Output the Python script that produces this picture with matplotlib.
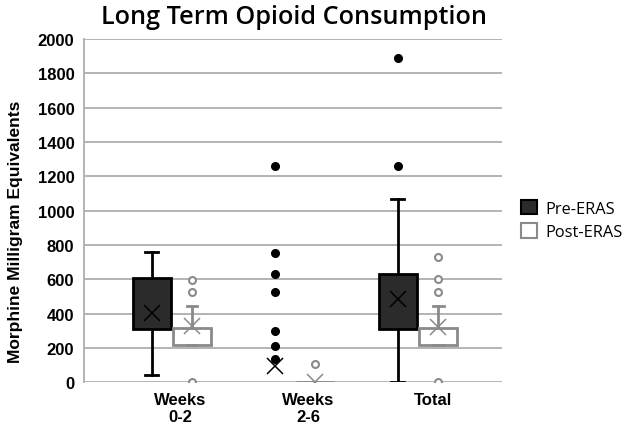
import matplotlib
matplotlib.use("Agg")
import matplotlib.pyplot as plt
from matplotlib.patches import Patch

# ---- data ----
categories = ["Weeks\n0-2", "Weeks\n2-6", "Total"]
series = ["Pre-ERAS", "Post-ERAS"]

pre_q1 = [311, 115, 309]
pre_med = [400, 115, 450]
pre_q3 = [610, 115, 631]
pre_whislo = [43, 115, 0]
pre_whishi = [761, 115, 1068]
pre_mean = [404, 95, 486]
pre_fliers = [[], [1262, 752, 631, 528, 298, 214, 136], [1890, 1262]]

post_q1 = [218, 0, 218]
post_med = [260, 0, 260]
post_q3 = [315, 0, 315]
post_whislo = [218, 0, 218]
post_whishi = [443, 0, 447]
post_mean = [330, 0, 322]
post_fliers = [[596, 528, 0], [107], [732, 602, 528, 0]]

yticks = [0, 200, 400, 600, 800, 1000, 1200, 1400, 1600, 1800, 2000]

# ---- figure ----
fig = plt.figure(figsize=(6.32, 4.27), dpi=100)
ax = fig.add_axes([84/632, 1-383.4/427, (502-84)/632, (383.4-40)/427])

ax.set_ylim(0, 2000)
ax.set_xlim(-0.715, 2.683)
ax.set_yticks(yticks)
ax.yaxis.grid(True, color="#b3b3b3", linewidth=1.4, zorder=0)
ax.set_axisbelow(True)
for s in ["top", "right", "bottom"]:
    ax.spines[s].set_visible(False)
ax.spines["left"].set_color("#b3b3b3")
ax.spines["left"].set_linewidth(1.4)
ax.tick_params(axis="y", length=0, pad=7, labelsize=12)
ax.tick_params(axis="x", length=0)
for lab in ax.get_yticklabels():
    lab.set_fontweight("bold")
    lab.set_family("Liberation Sans")

def stats(q1, med, q3, lo, hi, mean, fl):
    return [dict(q1=a, med=b, q3=c, whislo=d, whishi=e, mean=f, fliers=g)
            for a, b, c, d, e, f, g in zip(q1, med, q3, lo, hi, mean, fl)]

off = 0.165
pre_col = "#2b2b2b"
post_edge = "#8a8a8a"

ax.bxp(stats(pre_q1, pre_med, pre_q3, pre_whislo, pre_whishi, pre_mean, pre_fliers),
       positions=[i - off for i in range(3)], widths=[0.31, 0.0, 0.31],
       capwidths=[0.105, 0.0, 0.105],
       patch_artist=True, showmeans=True,
       boxprops=dict(facecolor=pre_col, edgecolor="black", linewidth=2),
       whiskerprops=dict(color="black", linewidth=2),
       capprops=dict(color="black", linewidth=2),
       medianprops=dict(color=pre_col, linewidth=0),
       meanprops=dict(marker="x", markeredgecolor="black", markersize=12, markeredgewidth=1.1),
       flierprops=dict(marker="o", markerfacecolor="black", markeredgecolor="black", markersize=5.5),
       zorder=3)

ax.bxp(stats(post_q1, post_med, post_q3, post_whislo, post_whishi, post_mean, post_fliers),
       positions=[i + off for i in range(3)], widths=0.31, capwidths=0.085,
       patch_artist=True, showmeans=True,
       boxprops=dict(facecolor="white", edgecolor=post_edge, linewidth=2),
       whiskerprops=dict(color=post_edge, linewidth=2),
       capprops=dict(color=post_edge, linewidth=2),
       medianprops=dict(color="white", linewidth=0),
       meanprops=dict(marker="x", markeredgecolor=post_edge, markersize=11, markeredgewidth=1.1),
       flierprops=dict(marker="o", markerfacecolor="white", markeredgecolor=post_edge,
                       markersize=5, markeredgewidth=1.5),
       zorder=3)

ax.set_xticks([])
label_pos = [0.065, 1.106, 2.12]
for x, t in zip(label_pos, categories):
    ax.text(x, -55, t, ha="center", va="top", fontsize=12, fontweight="bold",
            family="Liberation Sans", linespacing=1.2)

ax.set_ylabel("Morphine Milligram Equivalents", fontsize=12.5, fontweight="bold",
              family="Liberation Sans")
ax.yaxis.set_label_coords(-0.145, 0.44)

fig.text(294/632, 1-17/427, "Long Term Opioid Consumption", ha="center", va="center",
         fontsize=18.2, family="Open Sans", fontweight="semibold")

handles = [Patch(facecolor=pre_col, edgecolor="black", linewidth=1.5),
           Patch(facecolor="white", edgecolor=post_edge, linewidth=1.5)]
fig.legend(handles, series, loc="upper left", bbox_to_anchor=(506/632, 1-186/427),
           frameon=False, handlelength=1.0, handleheight=1.0,
           handletextpad=0.5, labelspacing=0.4, prop=dict(family="Open Sans", size=11.8))

fig.savefig("out.png", dpi=100)
